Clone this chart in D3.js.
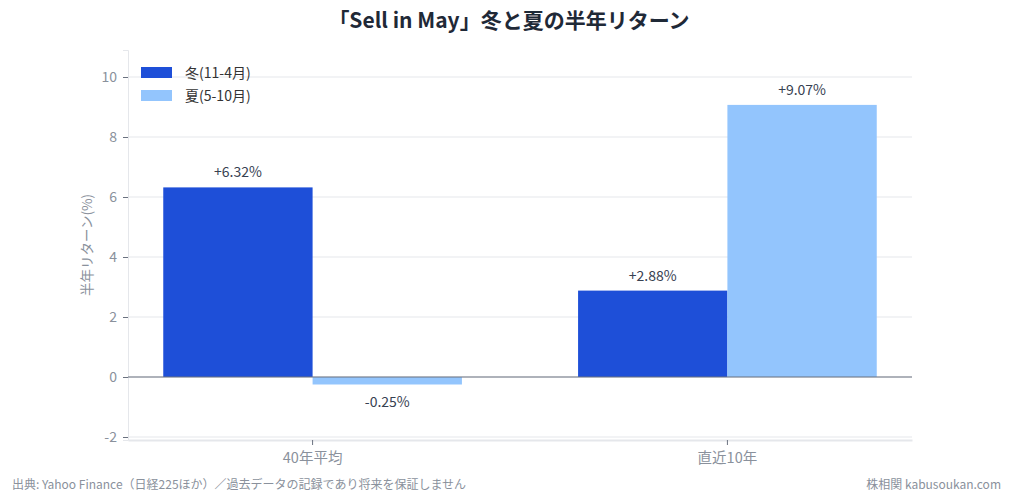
<!DOCTYPE html>
<html>
<head>
  <meta charset="utf-8">
  <script src="https://d3js.org/d3.v7.min.js"></script>
  <style>
    body { margin: 0; background: #fff; font-family: 'Noto Sans CJK JP', 'Noto Sans', sans-serif; }
  </style>
</head>
<body>
  <div id="my_dataviz"></div>
  <script>
    // data
    var categories = ["40年平均", "直近10年"];
    var seriesNames = ["冬(11-4月)", "夏(5-10月)"];
    var winter = [6.32, 2.88];
    var summer = [-0.25, 9.07];
    var yTicks = [-2, 0, 2, 4, 6, 8, 10];
    var colors = ["#1e4fd8", "#93c5fd"];

    var W = 1013, H = 502;
    var margin = { top: 50, right: 101, bottom: 62, left: 128 };
    var width = W - margin.left - margin.right,
        height = H - margin.top - margin.bottom;

    var svg = d3.select("#my_dataviz")
      .append("svg")
      .attr("width", W)
      .attr("height", H);

    var g = svg.append("g")
      .attr("transform", "translate(" + margin.left + "," + margin.top + ")");

    var x = d3.scaleBand()
      .domain(categories)
      .range([0, width])
      .paddingInner(0.28)
      .paddingOuter(0.085);

    var xs = d3.scaleBand()
      .domain([0, 1])
      .range([0, x.bandwidth()]);

    var y = d3.scaleLinear()
      .domain([-2.1, 10.9])
      .range([height, 0]);

    // grid
    g.selectAll(".grid")
      .data(yTicks)
      .enter()
      .append("line")
      .attr("x1", 0).attr("x2", width)
      .attr("y1", function (d) { return y(d); })
      .attr("y2", function (d) { return y(d); })
      .attr("stroke", "#e5e7eb")
      .attr("stroke-width", 1);

    // y axis
    var yAxis = g.append("g")
      .call(d3.axisLeft(y).tickValues(yTicks).tickSize(5).tickPadding(6)
        .tickFormat(function (d) { return String(d); }));
    yAxis.select(".domain").attr("stroke", "#e5e7eb");
    yAxis.selectAll(".tick line").attr("stroke", "#6b7280");
    yAxis.selectAll("text")
      .attr("fill", "#8a919c")
      .style("font-size", "14px")
      .style("font-family", "'Noto Sans CJK JP', sans-serif");

    // x axis
    var xAxis = g.append("g")
      .attr("transform", "translate(0," + height + ")")
      .call(d3.axisBottom(x).tickSize(5).tickPadding(8).tickSizeOuter(0));
    xAxis.select(".domain").attr("stroke", "#e5e7eb").attr("stroke-width", 2);
    xAxis.selectAll(".tick line").attr("stroke", "#6b7280");
    xAxis.selectAll("text")
      .attr("fill", "#8a919c")
      .style("font-size", "14.5px")
      .style("font-family", "'Noto Sans CJK JP', sans-serif");

    // bars
    var rows = categories.map(function (c, i) {
      return { cat: c, vals: [winter[i], summer[i]] };
    });

    var grp = g.selectAll(".grp")
      .data(rows)
      .enter()
      .append("g")
      .attr("transform", function (d) { return "translate(" + x(d.cat) + ",0)"; });

    grp.selectAll("rect")
      .data(function (d) { return d.vals; })
      .enter()
      .append("rect")
      .attr("x", function (d, i) { return xs(i); })
      .attr("width", xs.bandwidth())
      .attr("y", function (d) { return y(Math.max(0, d)); })
      .attr("height", function (d) { return Math.abs(y(d) - y(0)); })
      .attr("fill", function (d, i) { return colors[i]; });

    grp.selectAll(".lbl")
      .data(function (d) { return d.vals; })
      .enter()
      .append("text")
      .attr("x", function (d, i) { return xs(i) + xs.bandwidth() / 2; })
      .attr("y", function (d) { return d >= 0 ? y(d) - 10 : y(d) + 22; })
      .attr("text-anchor", "middle")
      .attr("fill", "#374151")
      .style("font-size", "14px")
      .text(function (d) { return (d >= 0 ? "+" : "") + d.toFixed(2) + "%"; });

    // zero line
    g.append("line")
      .attr("x1", 0).attr("x2", width)
      .attr("y1", y(0)).attr("y2", y(0))
      .attr("stroke", "#6b7280")
      .attr("stroke-width", 1.2);

    // y label
    svg.append("text")
      .attr("transform", "translate(92," + (margin.top + y(4.4)) + ") rotate(-90)")
      .attr("text-anchor", "middle")
      .attr("fill", "#8a919c")
      .style("font-size", "13.5px")
      .text("半年リターン(%)");

    // legend
    var legend = svg.append("g").attr("transform", "translate(141,67)");
    seriesNames.forEach(function (s, i) {
      legend.append("rect")
        .attr("x", 0).attr("y", i * 23)
        .attr("width", 31).attr("height", 11)
        .attr("fill", colors[i]);
      legend.append("text")
        .attr("x", 44).attr("y", i * 23 + 11)
        .attr("fill", "#333")
        .style("font-size", "14px")
        .text(s);
    });

    // title
    svg.append("text")
      .attr("x", 509).attr("y", 28)
      .attr("text-anchor", "middle")
      .attr("fill", "#1f2937")
      .style("font-size", "21px")
      .style("font-weight", "bold")
      .text("「Sell in May」冬と夏の半年リターン");

    // footer
    svg.append("text")
      .attr("x", 12).attr("y", 489)
      .attr("fill", "#8a919c")
      .style("font-size", "12px")
      .text("出典: Yahoo Finance（日経225ほか）／過去データの記録であり将来を保証しません");
    svg.append("text")
      .attr("x", 1001).attr("y", 489)
      .attr("text-anchor", "end")
      .attr("fill", "#8a919c")
      .style("font-size", "12px")
      .text("株相関 kabusoukan.com");
  </script>
</body>
</html>
